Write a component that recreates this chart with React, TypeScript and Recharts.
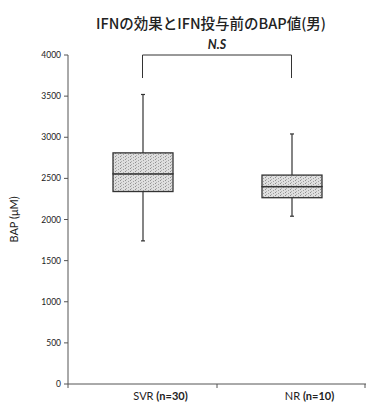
import * as React from "react";
import {
  Bar,
  ComposedChart,
  ReferenceLine,
  XAxis,
  YAxis
} from "recharts";

// five-number summaries per group
const groups = ["SVR", "NR"];
const groupSizes = [30, 10];
const minValues = [1740, 2040];
const q1Values = [2340, 2265];
const medianValues = [2555, 2400];
const q3Values = [2810, 2540];
const maxValues = [3520, 3040];

const yTicks = [0, 500, 1000, 1500, 2000, 2500, 3000, 3500, 4000];
const bracketTop = 4000;
const bracketFoot = 3720;

const CHART_W = 367;
const CHART_H = 403;
const Y_AXIS_W = 68;
const X_AXIS_H = 19;
const MARGIN = { top: 55, right: 1, bottom: 0, left: 0 };
const PLOT_BOTTOM = CHART_H - MARGIN.bottom - X_AXIS_H;
const BAND = (CHART_W - MARGIN.left - MARGIN.right - Y_AXIS_W) / groups.length;

const AXIS_COLOR = "#555";
const INK = "#333";
const TICK_FONT = "Lato, 'Open Sans', sans-serif";

const data = groups.map((g, i) => ({
  name: g,
  base: minValues[i],
  lowerWhisker: q1Values[i] - minValues[i],
  lowerBox: medianValues[i] - q1Values[i],
  upperBox: q3Values[i] - medianValues[i],
  upperWhisker: maxValues[i] - q3Values[i]
}));

function Whisker(props: any, capAtTop: boolean) {
  const { x, y, width, height } = props;
  const cx = x + width / 2;
  const capY = capAtTop ? y : y + height;
  return (
    <g stroke={INK} strokeWidth={1.2}>
      <line x1={cx} y1={y} x2={cx} y2={y + height} />
      <line x1={cx - 2} y1={capY} x2={cx + 2} y2={capY} />
    </g>
  );
}

function BoxPart(props: any) {
  const { x, y, width, height } = props;
  return (
    <rect
      x={x}
      y={y}
      width={width}
      height={height}
      fill="url(#stipple)"
      stroke={INK}
      strokeWidth={1.3}
    />
  );
}

function GroupTick(props: any) {
  const { x, index } = props;
  const left = x - BAND / 2;
  const right = x + BAND / 2;
  const isLast = index === groups.length - 1;
  return (
    <g>
      <line x1={left} y1={PLOT_BOTTOM} x2={left} y2={PLOT_BOTTOM + 4} stroke={AXIS_COLOR} />
      {isLast && (
        <line x1={right - 1} y1={PLOT_BOTTOM} x2={right - 1} y2={PLOT_BOTTOM + 4} stroke={AXIS_COLOR} />
      )}
      <text
        x={x + 18}
        y={PLOT_BOTTOM + 16}
        textAnchor="middle"
        fontSize={11}
        fontFamily={TICK_FONT}
        fill="#222"
      >
        <tspan>{groups[index]} </tspan>
        <tspan fontWeight="bold">(n={groupSizes[index]})</tspan>
      </text>
    </g>
  );
}

function YLabel(props: any) {
  const { viewBox } = props;
  const x = 15;
  const y = viewBox.y + viewBox.height / 2;
  return (
    <text
      x={x}
      y={y}
      transform={`rotate(-90 ${x} ${y})`}
      textAnchor="middle"
      dominantBaseline="middle"
      fontSize={11}
      fontFamily={TICK_FONT}
      fill="#222"
    >
      BAP (μM)
    </text>
  );
}

export default function App() {
  return (
    <div style={{ position: "absolute", left: 0, top: 0, width: CHART_W, height: CHART_H, background: "#fff" }}>
      <div
        style={{
          position: "absolute",
          top: 14,
          left: 0,
          width: CHART_W,
          boxSizing: "border-box",
          paddingLeft: 55,
          textAlign: "center",
          fontFamily: "'Noto Sans CJK JP', sans-serif",
          fontSize: 14.5,
          fontWeight: 500,
          lineHeight: "18px",
          color: "#222"
        }}
      >
        IFNの効果とIFN投与前のBAP値(男)
      </div>
      <ComposedChart width={CHART_W} height={CHART_H} data={data} margin={MARGIN}>
        <defs>
          <pattern id="stipple" width="5" height="3" patternUnits="userSpaceOnUse">
            <rect width="5" height="3" fill="#dedede" />
            <rect x="0" y="0" width="1" height="1" fill="#8f8f8f" />
            <rect x="3" y="1" width="1" height="1" fill="#a0a0a0" />
            <rect x="1" y="2" width="1" height="1" fill="#b0b0b0" />
          </pattern>
        </defs>
        <XAxis
          dataKey="name"
          height={X_AXIS_H}
          axisLine={{ stroke: AXIS_COLOR }}
          tickLine={false}
          tick={GroupTick}
          interval={0}
        />
        <YAxis
          width={Y_AXIS_W}
          domain={[0, 4000]}
          ticks={yTicks}
          tickSize={4}
          tickMargin={3}
          axisLine={{ stroke: AXIS_COLOR }}
          tickLine={{ stroke: AXIS_COLOR }}
          tick={{ fontSize: 8.5, fill: "#222", fontFamily: TICK_FONT }}
          label={<YLabel />}
        />
        <Bar dataKey="base" stackId="box" barSize={60} fill="none" shape={() => null} isAnimationActive={false} />
        <Bar dataKey="lowerWhisker" stackId="box" barSize={60} shape={(p: any) => Whisker(p, false)} isAnimationActive={false} />
        <Bar dataKey="lowerBox" stackId="box" barSize={60} shape={BoxPart} isAnimationActive={false} />
        <Bar dataKey="upperBox" stackId="box" barSize={60} shape={BoxPart} isAnimationActive={false} />
        <Bar dataKey="upperWhisker" stackId="box" barSize={60} shape={(p: any) => Whisker(p, true)} isAnimationActive={false} />
        <ReferenceLine
          segment={[
            { x: groups[0], y: bracketTop },
            { x: groups[1], y: bracketTop }
          ]}
          stroke={INK}
          strokeWidth={1}
          label={{
            value: "N.S",
            position: "top",
            offset: 6,
            fontSize: 12.5,
            fontWeight: "bold",
            fontStyle: "italic",
            fill: "#222",
            fontFamily: TICK_FONT
          }}
        />
        <ReferenceLine
          segment={[
            { x: groups[0], y: bracketTop },
            { x: groups[0], y: bracketFoot }
          ]}
          stroke={INK}
          strokeWidth={1}
        />
        <ReferenceLine
          segment={[
            { x: groups[1], y: bracketTop },
            { x: groups[1], y: bracketFoot }
          ]}
          stroke={INK}
          strokeWidth={1}
        />
      </ComposedChart>
    </div>
  );
}
